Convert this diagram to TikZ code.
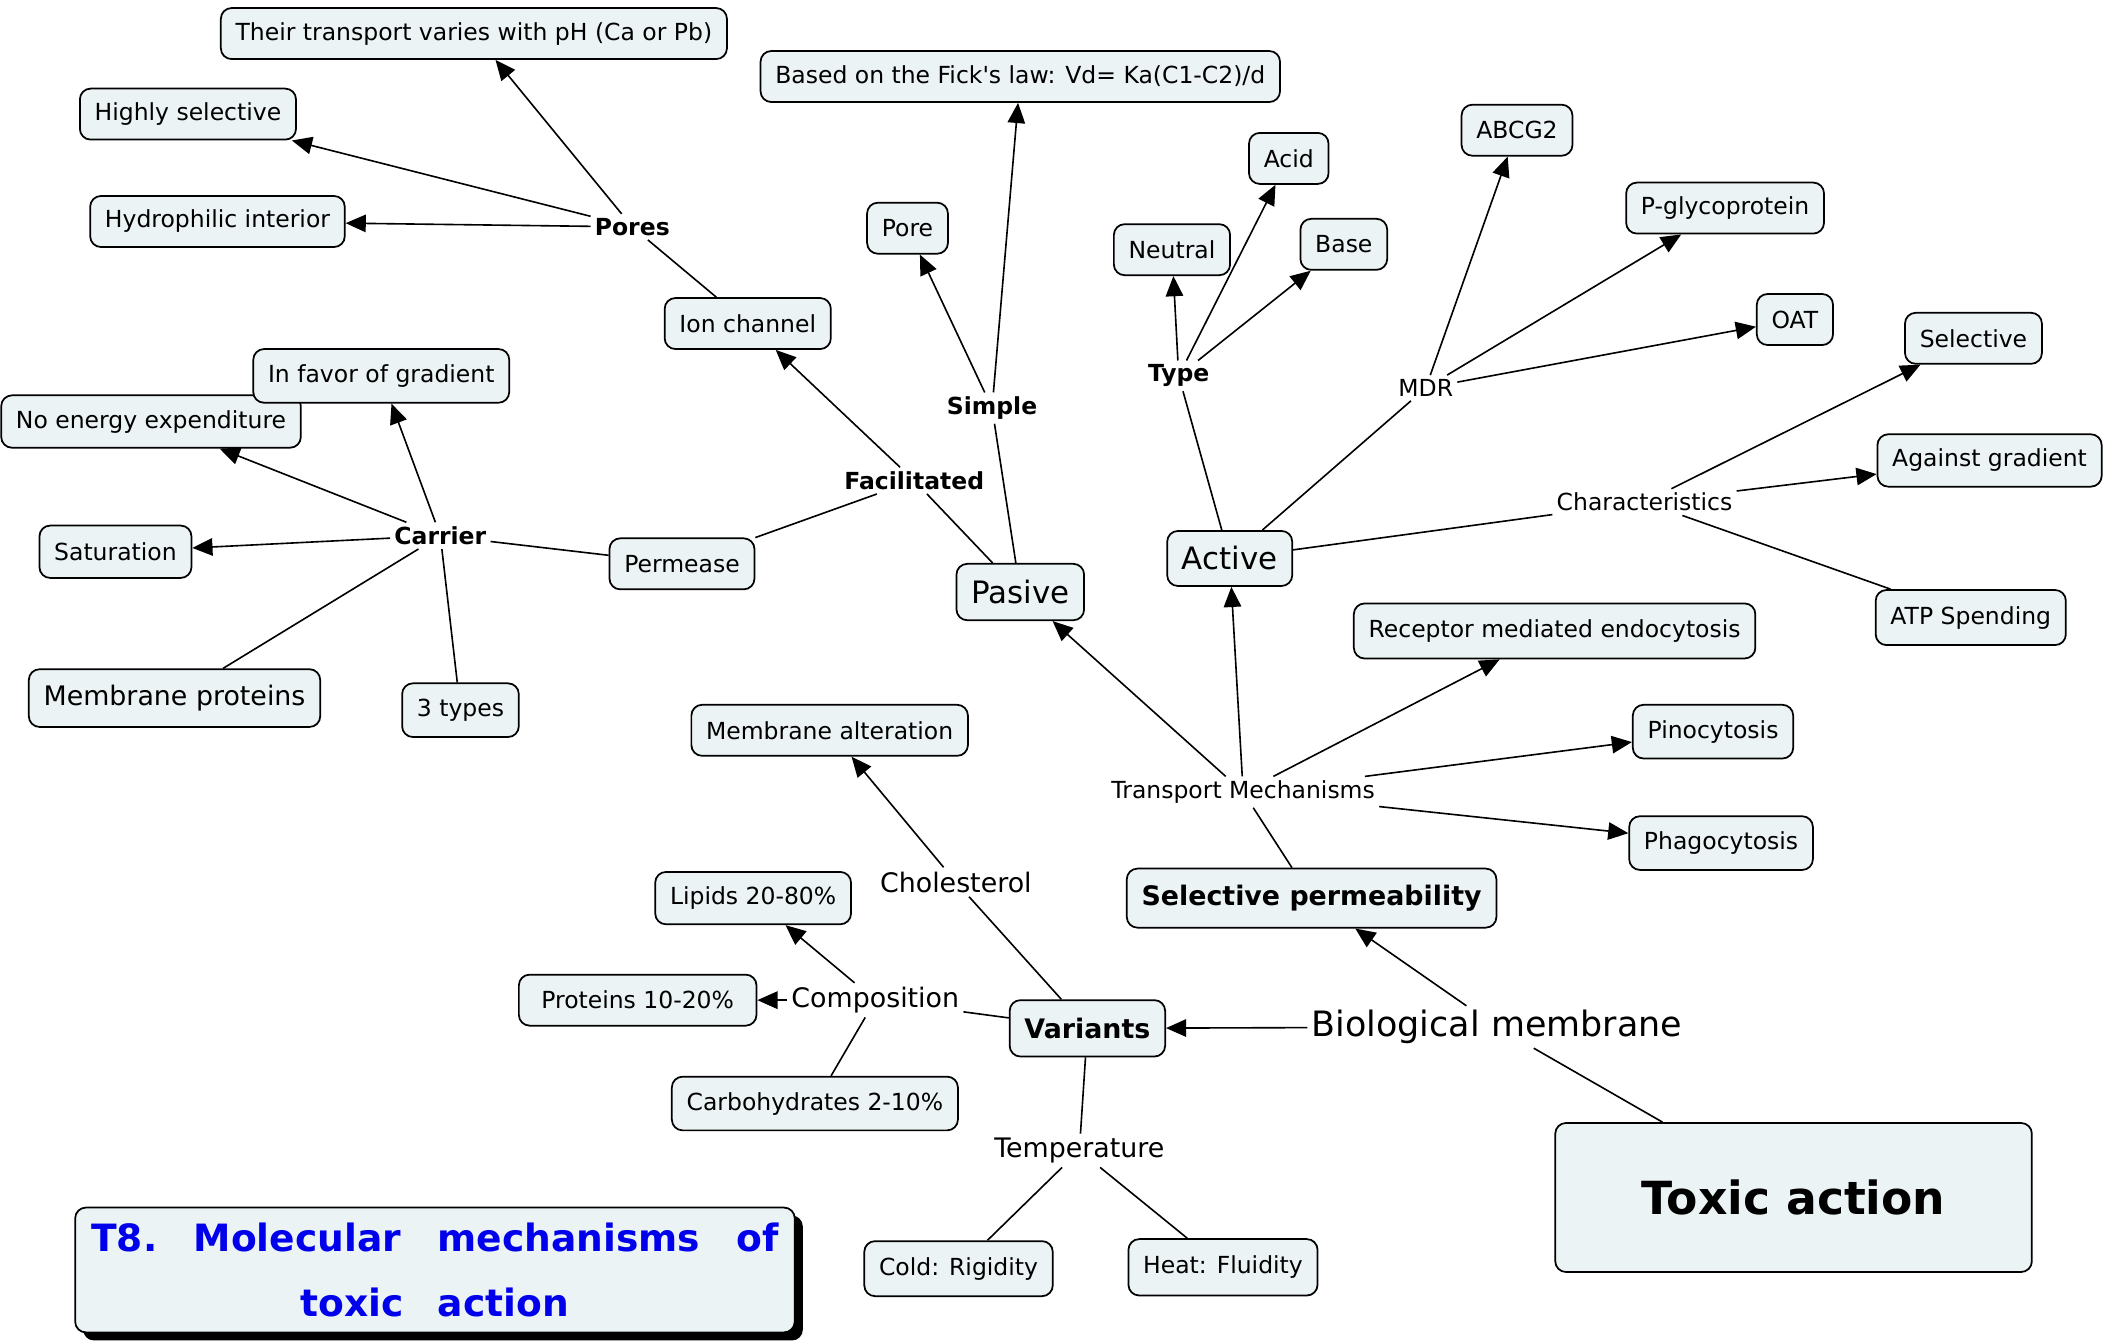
\documentclass[tikz,border=0pt]{standalone}
\usepackage{fontspec}
\setmainfont{DejaVu Sans}
\usetikzlibrary{arrows.meta,shadows}
\definecolor{boxfill}{RGB}{235,243,245}
\definecolor{titleblue}{RGB}{0,0,235}
\newcommand{\fsz}[1]{\fontsize{#1}{#1}\selectfont}
\tikzset{
  concept/.style={draw, fill=boxfill, rounded corners=8pt, line width=1.3pt,
    inner xsep=11pt, inner ysep=2pt, minimum height=38pt, font=\fsz{17.5}},
  bigconcept/.style={concept, font=\fsz{20}, minimum height=42pt},
  phrase/.style={inner sep=3pt, font=\fsz{17.5}},
  boldphrase/.style={phrase, font=\fsz{17.5}\bfseries},
  bigphrase/.style={phrase, font=\fsz{20}},
  link/.style={line width=1.2pt},
  arrowlink/.style={link, -{Triangle[length=15pt,width=13pt]}},
}
\begin{document}
\begin{tikzpicture}[x=1pt,y=-1pt]
\fill[white] (0,0) rectangle (1568,1000);
\useasboundingbox (0,0) rectangle (1568,1000);

% concepts
\node[concept] (ph) at (353,25) {Their transport varies with pH (Ca or Pb)};
\node[concept] (hsel) at (140,85) {Highly selective};
\node[concept] (hyd) at (162,165) {Hydrophilic interior};
\node[concept] (fick) at (760,57) {Based on the Fick\textquotesingle s law: Vd= Ka(C1-C2)/d};
\node[concept] (pore) at (676,170) {Pore};
\node[concept] (neut) at (873,186) {Neutral};
\node[concept] (acid) at (960,118) {Acid};
\node[concept] (base) at (1001,182) {Base};
\node[concept] (abcg) at (1130,97) {ABCG2};
\node[concept] (pgp) at (1285,155) {P-glycoprotein};
\node[concept] (oat) at (1337,238) {OAT};
\node[concept] (sel) at (1470,252) {Selective};
\node[concept, minimum height=39pt] (agr) at (1482,343) {Against gradient};
\node[concept, minimum height=41pt] (atp) at (1468,460) {ATP Spending};
\node[concept, minimum height=41pt] (rme) at (1158,470) {Receptor mediated endocytosis};
\node[concept, minimum height=40pt] (pino) at (1276,545) {Pinocytosis};
\node[concept, minimum height=40pt] (phago) at (1282,628) {Phagocytosis};
\node[concept] (ion) at (557,241) {Ion channel};
\node[concept, minimum height=39pt] (noen) at (112.5,314) {No energy expenditure};
\node[concept, minimum height=40pt] (fav) at (284,280) {In favor of gradient};
\node[concept, minimum height=39pt] (sat) at (86,411) {Saturation};
\node[bigconcept, minimum height=43pt] (mprot) at (130,520) {Membrane proteins};
\node[concept, minimum height=40pt] (three) at (343,529) {3 types};
\node[concept] (perm) at (508,420) {Permease};
\node[bigconcept, font=\fsz{23}] (pas) at (760,441) {Pasive};
\node[bigconcept, font=\fsz{23}, minimum height=41pt] (act) at (916,416) {Active};
\node[concept] (malt) at (618,544) {Membrane alteration};
\node[concept, minimum height=39pt] (lip) at (561,669) {Lipids 20-80\%};
\node[concept, minimum width=177pt] (prot) at (475,745) {Proteins 10-20\%};
\node[concept, minimum height=40pt] (carb) at (607,822) {Carbohydrates 2-10\%};
\node[bigconcept, font=\fsz{20}\bfseries] (var) at (810,766) {Variants};
\node[bigconcept, font=\fsz{20}\bfseries, minimum height=44pt] (sp) at (977,669) {Selective permeability};
\node[concept, minimum height=41pt] (cold) at (714,945) {Cold: Rigidity};
\node[concept, minimum height=42pt] (heat) at (911,944) {Heat: Fluidity};
\node[concept, font=\fsz{34}\bfseries, minimum width=355pt, minimum height=111pt] (tox) at (1336,892) {Toxic action};

% linking phrases
\node[boldphrase] (pores) at (471,169) {Pores};
\node[boldphrase] (carrier) at (328,399) {Carrier};
\node[boldphrase] (facil) at (681,358) {Facilitated};
\node[boldphrase] (simple) at (739,304) {Simple};
\node[boldphrase] (type) at (878,280) {Type};
\node[phrase] (mdr) at (1062,289) {MDR};
\node[phrase] (chars) at (1225,374) {Characteristics};
\node[phrase] (tm) at (926,590) {Transport Mechanisms};
\node[bigphrase] (chol) at (712,657) {Cholesterol};
\node[bigphrase] (comp) at (652,745) {Composition};
\node[phrase, font=\fsz{26}] (bio) at (1115,765) {Biological membrane};
\node[bigphrase] (temp) at (804,857) {Temperature};

% title
\node[draw, fill=boxfill, rounded corners=8pt, line width=1.3pt,
  minimum width=536pt, minimum height=93pt, text width=512pt, align=center,
  font=\fontsize{28}{48}\selectfont\bfseries, text=titleblue,
  drop shadow={shadow xshift=6pt, shadow yshift=-6pt, opacity=1, fill=black}]
  (title) at (324,946) {T8.\hfill Molecular\hfill mechanisms\hfill of\\ toxic\hspace{0.9em}action};

% connectors
\draw[arrowlink] (pores) -- (ph);
\draw[arrowlink] (pores) -- (hsel);
\draw[arrowlink] (pores) -- (hyd);
\draw[link] (ion) -- (pores);
\draw[arrowlink] (facil) -- (ion);
\draw[link] (pas) -- (facil);
\draw[link] (perm) -- (facil);
\draw[link] (perm) -- (carrier);
\draw[arrowlink] (carrier) -- (fav);
\draw[arrowlink] (carrier) -- (noen);
\draw[arrowlink] (carrier) -- (sat);
\draw[link] (carrier) -- (mprot);
\draw[link] (carrier) -- (three);
\draw[link] (pas) -- (simple);
\draw[arrowlink] (simple) -- (pore);
\draw[arrowlink] (simple) -- (fick);
\draw[link] (act) -- (type);
\draw[arrowlink] (type) -- (neut);
\draw[arrowlink] (type) -- (acid);
\draw[arrowlink] (type) -- (base);
\draw[link] (act) -- (mdr);
\draw[arrowlink] (mdr) -- (abcg);
\draw[arrowlink] (mdr) -- (pgp);
\draw[arrowlink] (mdr) -- (oat);
\draw[link] (act) -- (chars);
\draw[arrowlink] (chars) -- (sel);
\draw[arrowlink] (chars) -- (agr);
\draw[link] (chars) -- (atp);
\draw[link] (sp) -- (tm);
\draw[arrowlink] (tm) -- (pas);
\draw[arrowlink] (tm) -- (act);
\draw[arrowlink] (tm) -- (rme);
\draw[arrowlink] (tm) -- (pino);
\draw[arrowlink] (tm) -- (phago);
\draw[link] (tox) -- (bio);
\draw[arrowlink] (bio) -- (sp);
\draw[arrowlink] (bio) -- (var);
\draw[link] (var) -- (chol);
\draw[arrowlink] (chol) -- (malt);
\draw[link] (var) -- (comp);
\draw[arrowlink] (comp) -- (lip);
\draw[arrowlink] (comp) -- (prot);
\draw[link] (comp) -- (carb);
\draw[link] (var) -- (temp);
\draw[link] (temp) -- (cold);
\draw[link] (temp) -- (heat);
\end{tikzpicture}
\end{document}
